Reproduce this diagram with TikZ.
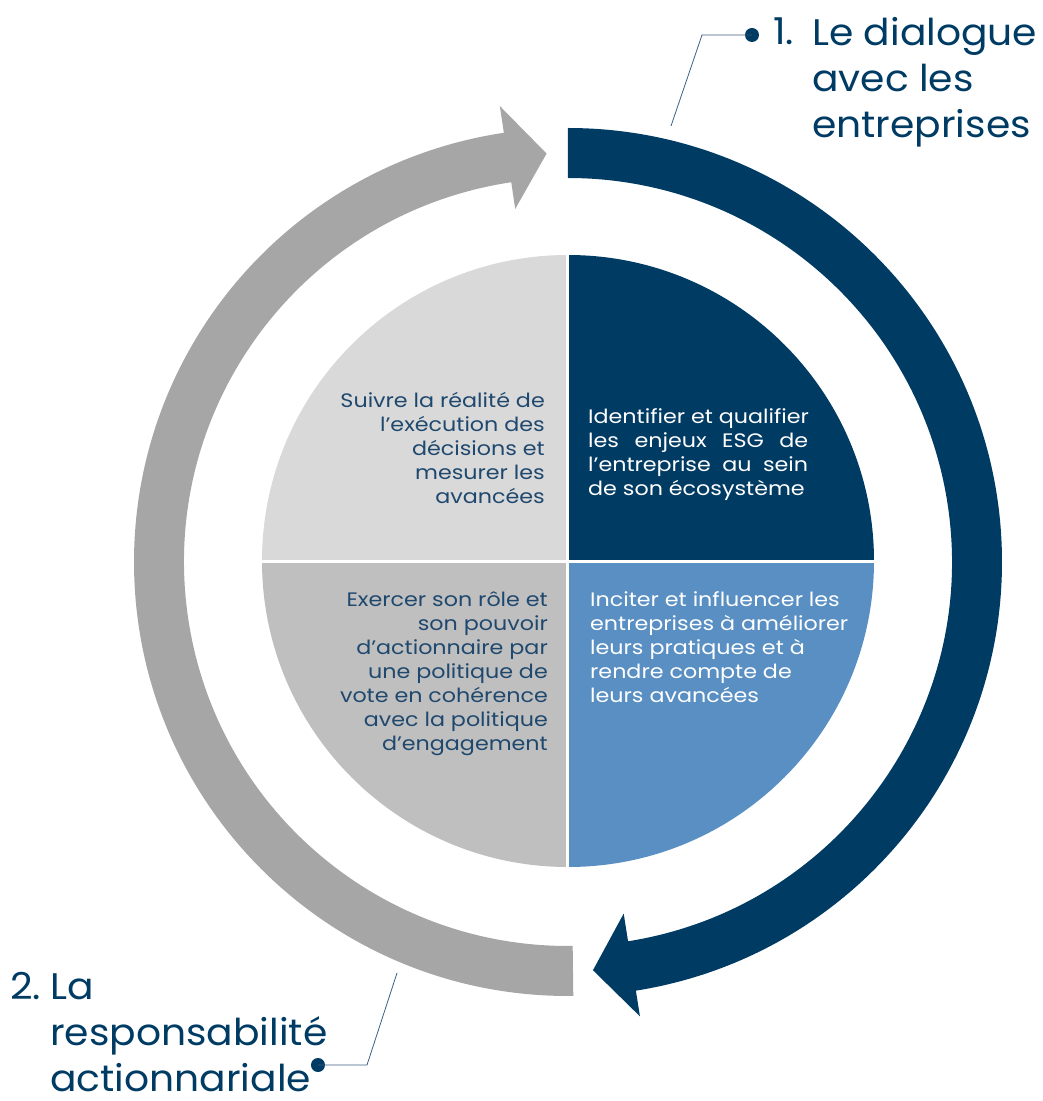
\documentclass[tikz,border=0pt]{standalone}
\usepackage{fontspec}
\setmainfont{Poppins}
\newfontfamily\bodyfont{Poppins}[FakeStretch=1.14]
\newfontfamily\bigfont{Poppins}[FakeStretch=1.06]
\definecolor{navy}{RGB}{0,59,100}
\definecolor{midblue}{RGB}{89,143,194}
\definecolor{qlight}{RGB}{217,217,217}
\definecolor{qmid}{RGB}{191,191,191}
\definecolor{ringgray}{RGB}{166,166,166}
\definecolor{txtblue}{RGB}{31,72,110}
\definecolor{leader}{RGB}{60,95,130}
\begin{document}
\begin{tikzpicture}[x=1pt,y=1pt,
  bodytxt/.style={inner sep=0pt, font=\bodyfont\fontsize{19.5}{24}\selectfont},
  bigtxt/.style={inner sep=0pt, font=\bigfont\fontsize{37}{46}\selectfont, text=navy},
  leaderline/.style={draw=leader, line width=0.8pt},
  dotnode/.style={circle, fill=navy, inner sep=0pt, minimum size=14pt}]
\useasboundingbox (-568,-539) rectangle (475,562);
% ring arrows
\fill[navy] (90:384pt) -- (90:434pt) arc[start angle=90,end angle=-81,radius=434pt]
  -- (-81:460pt) -- (-86.5:409pt) -- (-81:356pt) -- (-81:384pt)
  arc[start angle=-81,end angle=90,radius=384pt] -- cycle;
\fill[ringgray] (270.7:384pt) -- (270.7:434pt) arc[start angle=270.7,end angle=98.5,radius=434pt]
  -- (98.5:461pt) -- (93:409pt) -- (98.5:357pt) -- (98.5:384pt)
  arc[start angle=98.5,end angle=270.7,radius=384pt] -- cycle;
% pie
\coordinate (pc) at (0,1);
\fill[qlight] (pc) -- ++(180:306pt) arc[start angle=180,end angle=90,radius=306pt] -- cycle;
\fill[navy] (pc) -- ++(90:306pt) arc[start angle=90,end angle=0,radius=306pt] -- cycle;
\fill[midblue] (pc) -- ++(0:306pt) arc[start angle=0,end angle=-90,radius=306pt] -- cycle;
\fill[qmid] (pc) -- ++(-90:306pt) arc[start angle=-90,end angle=-180,radius=306pt] -- cycle;
\draw[white, line width=3pt] (0,309) -- (0,-307);
\draw[white, line width=3pt] (-309,1) -- (309,1);
% quadrant texts
\node[bodytxt, text=txtblue, align=right, anchor=north east] (tl) at (-23,175)
  {\rule{0pt}{20pt}Suivre la réalité de\\l’exécution des\\décisions et\\mesurer les\\avancées};
\node[bodytxt, text=white, align=left, anchor=north west] (tr) at (20,159)
  {\rule{0pt}{20pt}Identifier et qualifier\\\hbox to 220pt{les\hfill enjeux\hfill ESG\hfill de}\\\hbox to 220pt{l’entreprise\hfill au\hfill sein}\\de son écosystème};
\node[bodytxt, text=txtblue, align=right, anchor=north east] (bl) at (-20,-24)
  {\rule{0pt}{20pt}Exercer son rôle et\\son pouvoir\\d’actionnaire par\\une politique de\\vote en cohérence\\avec la politique\\d’engagement};
\node[bodytxt, text=white, align=left, anchor=north west] (br) at (22,-24)
  {\rule{0pt}{20pt}Inciter et influencer les\\entreprises à améliorer\\leurs pratiques et à\\rendre compte de\\leurs avancées};
% labels
\node[bigtxt, anchor=base west] (n1) at (205,517) {1.};
\node[bigtxt, anchor=north west, align=left] (t1) at (244,547)
  {\rule{0pt}{30pt}Le dialogue\\avec les\\entreprises};
\node[bigtxt, anchor=base west] (n2) at (-558,-437) {2.};
\node[bigtxt, anchor=north west, align=left] (t2) at (-518,-407)
  {\rule{0pt}{30pt}La\\responsabilité\\actionnariale};
% leaders
\node[dotnode] (d1) at (184,527) {};
\coordinate (k1) at (134,527);
\coordinate (e1) at (103,436);
\draw[leaderline] (d1.center) -- (k1) -- (e1);
\node[dotnode] (d2) at (-250,-503) {};
\coordinate (k2) at (-201,-503);
\coordinate (e2) at (-171,-411);
\draw[leaderline] (d2.center) -- (k2) -- (e2);
\end{tikzpicture}
\end{document}
